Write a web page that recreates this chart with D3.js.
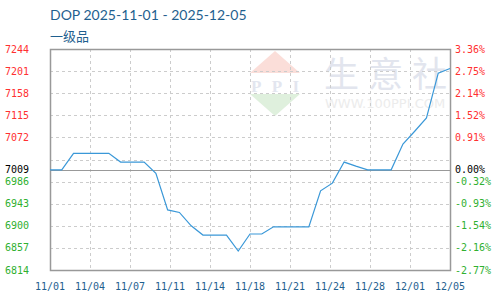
<!DOCTYPE html>
<html>
<head>
<meta charset="utf-8">
<script src="https://cdn.jsdelivr.net/npm/d3@7"></script>
<style>
    body { margin: 0; background: #fff; }
    #chart { width: 500px; height: 300px; }
</style>
</head>
<body>
<div id="chart"></div>
<script>

// daily prices, 11/01 .. 12/05
let dates = ['11/01','11/02','11/03','11/04','11/05','11/06','11/07','11/08','11/09','11/10',
             '11/11','11/12','11/13','11/14','11/15','11/16','11/17','11/18','11/19','11/20',
             '11/21','11/22','11/23','11/24','11/25','11/26','11/27','11/28','11/29','11/30',
             '12/01','12/02','12/03','12/04','12/05'];
let prices = [7009, 7009, 7041, 7041, 7041, 7041, 7024, 7024, 7024, 7002,
              6931, 6926, 6900, 6882, 6882, 6882, 6851, 6884, 6884, 6898,
              6898, 6898, 6898, 6968, 6983, 7024, 7016, 7009, 7009, 7009,
              7059, 7084, 7110, 7197, 7206];

let basePrice = 7009;
let yTickValues = [7244, 7201, 7158, 7115, 7072, 7029, 6986, 6943, 6900, 6857, 6814];
let yTickLabels = ['7244', '7201', '7158', '7115', '7072', '', '6986', '6943', '6900', '6857', '6814'];
let pctLabels = ['3.36%', '2.75%', '2.14%', '1.52%', '0.91%', '', '-0.32%', '-0.93%', '-1.54%', '-2.16%', '-2.77%'];
let xLabels = ['11/01','11/04','11/07','11/11','11/14','11/18','11/21','11/24','11/28','12/01','12/05'];

let margin = {top: 49, right: 50, bottom: 30, left: 50};
let width = 500 - margin.left - margin.right;
let height = 300 - margin.top - margin.bottom;

let svg = d3.select('#chart').append('svg')
    .attr('width', 500)
    .attr('height', 300);

// title
svg.append('text')
    .attr('x', 50).attr('y', 20)
    .style('font-family', 'Lato, "Open Sans", sans-serif')
    .style('font-size', '14px')
    .style('fill', '#1f5f8f')
    .text('DOP 2025-11-01 - 2025-12-05');

svg.append('text')
    .attr('x', 50).attr('y', 41)
    .style('font-family', '"Noto Sans CJK SC", sans-serif')
    .style('font-size', '13px')
    .style('fill', '#1f5f8f')
    .text('一级品');

let g = svg.append('g')
    .attr('transform', `translate(${margin.left}, ${margin.top})`);

let xScale = d3.scaleLinear()
    .domain([0, dates.length - 1])
    .range([0, width]);

let xLabelScale = d3.scalePoint()
    .domain(xLabels)
    .range([0, width]);

let yScale = d3.scaleLinear()
    .domain([6814, 7244])
    .range([height, 0]);

// watermark
let wm = g.append('g').attr('transform', 'translate(200, 2)');
wm.append('path')
    .attr('d', 'M25,0 L50,22 L0,22 Z')
    .style('fill', '#fbded9');
wm.append('path')
    .attr('d', 'M0,43 L50,43 L25,65 Z')
    .style('fill', '#dff0dd');
wm.append('text')
    .attr('x', 1).attr('y', 41)
    .attr('textLength', 48)
    .attr('lengthAdjust', 'spacing')
    .style('font-family', '"Liberation Serif", serif')
    .style('font-weight', 'bold')
    .style('font-size', '17px')
    .style('fill', '#e3e6ef')
    .text('PPI');
wm.append('text')
    .attr('x', 74).attr('y', 36)
    .style('font-family', '"Noto Sans CJK SC", sans-serif')
    .style('font-size', '35px')
    .style('letter-spacing', '9px')
    .style('fill', '#e2e5ee')
    .text('生意社');
wm.append('text')
    .attr('x', 75).attr('y', 57)
    .style('font-family', '"DejaVu Sans", sans-serif')
    .style('font-size', '13px')
    .style('fill', '#ececec')
    .text('WWW.100PPI.COM');

// grid
g.selectAll('.hgrid')
    .data(yTickValues.slice(1, -1))
    .enter().append('line')
    .attr('class', 'hgrid')
    .attr('x1', 0).attr('x2', width)
    .attr('y1', d => Math.round(yScale(d)) + 0.5)
    .attr('y2', d => Math.round(yScale(d)) + 0.5)
    .style('stroke', '#cccccc')
    .style('stroke-dasharray', '3,3');

g.selectAll('.vgrid')
    .data(xLabels.slice(1, -1))
    .enter().append('line')
    .attr('class', 'vgrid')
    .attr('x1', d => xLabelScale(d) + 0.5).attr('x2', d => xLabelScale(d) + 0.5)
    .attr('y1', 0).attr('y2', height)
    .style('stroke', '#cccccc')
    .style('stroke-dasharray', '3,3');

// base line
g.append('line')
    .attr('x1', 0).attr('x2', width)
    .attr('y1', Math.round(yScale(basePrice)) + 0.5)
    .attr('y2', Math.round(yScale(basePrice)) + 0.5)
    .style('stroke', '#999999');

// frame
g.append('rect')
    .attr('x', 0.5).attr('y', 0.5)
    .attr('width', width).attr('height', height)
    .style('fill', 'none')
    .style('stroke', '#999999')
    .style('stroke-width', 1.5);

// price line
let line = d3.line()
    .x((d, i) => xScale(i))
    .y(d => yScale(d));

g.append('path')
    .datum(prices)
    .attr('d', line)
    .style('fill', 'none')
    .style('stroke', '#3a98d8')
    .style('stroke-width', 1.2);

function labelColor(v) {
    if (v > basePrice) return '#ff3030';
    if (v < basePrice) return '#30b030';
    return '#000000';
}

let monoFont = '"DejaVu Sans Mono", monospace';

// left axis labels
let leftTicks = yTickValues.map((v, i) => ({v: v, label: yTickLabels[i]})).filter(d => d.label !== '');
leftTicks.push({v: basePrice, label: String(basePrice)});

g.selectAll('.ylabel')
    .data(leftTicks)
    .enter().append('text')
    .attr('class', 'ylabel')
    .attr('x', -45)
    .attr('y', d => yScale(d.v))
    .attr('dy', '0.35em')
    .style('font-family', monoFont)
    .style('font-size', '10px')
    .style('fill', d => labelColor(d.v))
    .text(d => d.label);

// right axis labels
let rightTicks = yTickValues.map((v, i) => ({v: v, label: pctLabels[i]})).filter(d => d.label !== '');
rightTicks.push({v: basePrice, label: '0.00%'});

g.selectAll('.pctlabel')
    .data(rightTicks)
    .enter().append('text')
    .attr('class', 'pctlabel')
    .attr('x', width + 5)
    .attr('y', d => yScale(d.v))
    .attr('dy', '0.35em')
    .style('font-family', monoFont)
    .style('font-size', '10px')
    .style('fill', d => labelColor(d.v))
    .text(d => d.label);

// x axis labels
g.selectAll('.xlabel')
    .data(xLabels)
    .enter().append('text')
    .attr('class', 'xlabel')
    .attr('x', d => xLabelScale(d))
    .attr('y', height + 20)
    .attr('text-anchor', 'middle')
    .style('font-family', monoFont)
    .style('font-size', '10px')
    .style('fill', '#1f5f8f')
    .text(d => d);

</script>
</body>
</html>
